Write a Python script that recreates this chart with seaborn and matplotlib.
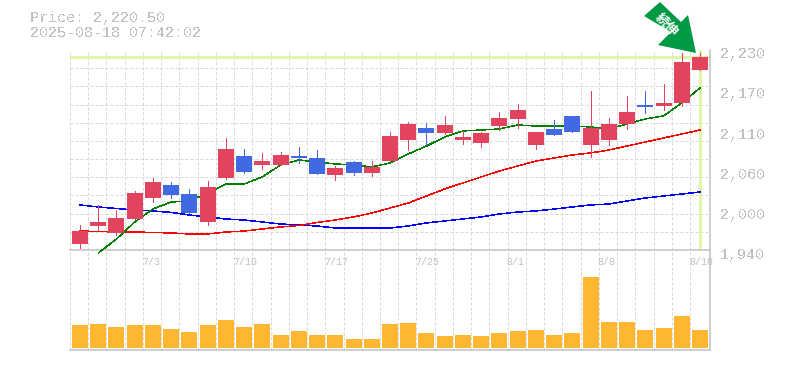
import numpy as np
import matplotlib
matplotlib.use('Agg')
import matplotlib.pyplot as plt
from matplotlib.patches import Polygon
from matplotlib.transforms import ScaledTranslation
import seaborn as sns

# daily prices
opens = [1949.2, 1974.8, 1964.7, 1985.0, 2015.4, 2034.3, 2021.2, 1980.6, 2044.4, 2076.3, 2063.3, 2063.3,
         2076.3, 2073.4, 2048.8, 2067.6, 2051.7, 2069.0, 2099.5, 2116.9, 2109.7, 2099.5, 2095.2, 2119.8,
         2130.0, 2092.3, 2115.5, 2134.3, 2092.3, 2099.5, 2122.7, 2150.3, 2148.8, 2153.2, 2201.0]
closes = [1967.5, 1980.6, 1986.4, 2022.6, 2038.6, 2019.8, 1993.6, 2031.3, 2086.5, 2053.1, 2069.0, 2077.8,
          2073.4, 2050.2, 2058.9, 2051.7, 2060.4, 2105.3, 2122.7, 2109.7, 2121.3, 2103.9, 2109.7, 2131.4,
          2143.0, 2111.1, 2106.8, 2111.1, 2116.9, 2122.7, 2140.1, 2147.4, 2153.2, 2212.6, 2220.5]
highs = [1976.3, 2005.3, 1998.0, 2025.5, 2044.4, 2038.6, 2028.5, 2040.0, 2102.4, 2086.5, 2080.7, 2082.1,
         2089.4, 2085.0, 2061.8, 2069.0, 2069.0, 2111.1, 2125.6, 2124.2, 2134.3, 2112.6, 2111.1, 2140.1,
         2151.7, 2111.1, 2128.5, 2134.3, 2170.5, 2131.4, 2163.3, 2170.5, 2180.7, 2225.7, 2225.7]
lows = [1943.3, 1969.4, 1961.8, 1985.0, 2009.6, 2015.4, 1993.6, 1976.3, 2043.0, 2051.7, 2057.5, 2063.3,
        2066.2, 2050.2, 2041.5, 2048.8, 2047.3, 2069.0, 2085.0, 2092.3, 2108.2, 2093.7, 2089.4, 2114.0,
        2116.9, 2086.5, 2106.8, 2111.1, 2074.9, 2092.3, 2115.5, 2138.7, 2143.0, 2148.8, 2201.0]

ma_short = [np.nan, 1935.6, 1956.0, 1980.6, 1999.5, 2009.6, 2011.0, 2022.6, 2035.7, 2035.7, 2045.9, 2063.3,
            2070.5, 2067.6, 2064.7, 2063.3, 2060.4, 2066.2, 2079.2, 2090.8, 2103.9, 2112.6, 2114.0, 2115.5,
            2121.3, 2119.8, 2119.8, 2119.8, 2118.4, 2115.5, 2122.7, 2130.0, 2134.3, 2153.2, 2174.9]
ma_mid = [1967.5, 1966.8, 1966.1, 1966.1, 1965.4, 1964.7, 1963.2, 1963.2, 1966.1, 1967.5, 1970.5, 1973.4,
          1975.5, 1979.9, 1983.5, 1987.9, 1993.6, 2000.9, 2008.1, 2018.3, 2028.5, 2037.2, 2045.9, 2054.6,
          2061.8, 2069.0, 2073.4, 2077.8, 2080.7, 2085.0, 2090.8, 2096.6, 2102.4, 2108.2, 2114.0]
ma_long = [2005.3, 2002.4, 2000.2, 1998.0, 1996.6, 1994.5, 1990.8, 1987.9, 1985.0, 1983.5, 1980.6, 1977.7,
           1976.3, 1974.8, 1971.9, 1971.9, 1971.9, 1971.9, 1974.8, 1979.2, 1982.1, 1985.0, 1987.9, 1992.2,
           1995.1, 1996.6, 1999.4, 2002.4, 2005.3, 2006.7, 2011.1, 2015.4, 2018.3, 2021.2, 2024.1]

volume = [23, 24, 21, 23, 23, 19, 16, 23, 28, 21, 24, 13, 17, 13, 13, 9, 9, 24,
          25, 15, 12, 13, 12, 15, 17, 18, 13, 15, 71, 26, 26, 18, 20, 32, 18]

date_pos = [4, 9, 14, 19, 24, 29, 34]
date_labels = ['7/3', '7/10', '7/17', '7/25', '8/1', '8/8', '8/18']
price_ticks = [2230, 2172, 2114, 2056, 1998, 1940]
price_labels = ['2,230', '2,170', '2,110', '2,060', '2,000', '1,940']
last_price = 2220.5

UP = '#e2445f'
DOWN = '#4169e1'
GRID = '#d8d8d8'
AXIS = '#c0c0c0'
CROSS = '#e0f5a8'
PX = 0.72  # one pixel in points at dpi 100
MARGIN = 0.548  # space left of the first candle, in days

sns.set_style('white')
plt.rcParams['font.family'] = ['Liberation Mono', 'DejaVu Sans']
plt.rcParams['text.antialiased'] = False

W, H = 785, 370
fig = plt.figure(figsize=(W / 100, H / 100), dpi=100)
vol = fig.add_axes([70 / W, (H - 350) / H, 640 / W, 100 / H])
ax = fig.add_axes([70 / W, (H - 250) / H, 640 / W, 200 / H])
vol.patch.set_visible(False)

days = np.arange(len(closes))
opens, closes, highs, lows = map(np.array, (opens, closes, highs, lows))

# moving averages sit behind the candles
for ma, col, clip in [(ma_long, '#0000ff', True), (ma_mid, '#ff0000', True), (ma_short, '#008000', False)]:
    sns.lineplot(x=days, y=ma, ax=ax, color=col, linewidth=0.5 * PX, antialiased=False,
                 errorbar=None, clip_on=clip, zorder=3)

colors = [UP if c >= o else DOWN for o, c in zip(opens, closes)]
ax.vlines(days, lows, highs, colors=colors, linewidth=PX, antialiased=False, zorder=4)
ax.bar(days, np.abs(closes - opens), bottom=np.minimum(opens, closes), width=0.877,
       color=colors, linewidth=0, antialiased=False, zorder=5)

ax.axhline(last_price, color=CROSS, linewidth=3 * PX, zorder=2)
ax.axvline(days[-1], color=CROSS, linewidth=3 * PX, zorder=2)

sns.barplot(x=days, y=volume, ax=vol, native_scale=True, width=0.877, color='#ffb733',
            saturation=1, linewidth=0, antialiased=False, zorder=3)

for a in (ax, vol):
    a.set_xlim(-MARGIN, days[-1] + MARGIN)
    a.set_xticks(days - MARGIN, minor=True)
    a.grid(False)
    a.grid(True, axis='x', which='minor', color=GRID, linewidth=PX, linestyle=(0, (3, 2)), zorder=1)
    a.set_axisbelow(True)
    a.set_xlabel('')
    a.set_ylabel('')
    a.spines['top'].set_visible(False)
    a.spines['left'].set_visible(False)
    for s in ('right', 'bottom'):
        a.spines[s].set_color(AXIS)
        a.spines[s].set_linewidth(1.5 * PX)

ax.set_ylim(1940, 2230)
ax.set_yticks(np.linspace(1940, 2230, 12), minor=True)
ax.grid(True, axis='y', which='minor', color=GRID, linewidth=PX, linestyle=(0, (3, 2)), zorder=1)
ax.yaxis.tick_right()
ax.set_yticks(price_ticks, price_labels)
ax.tick_params(axis='y', which='both', length=0, pad=7, labelsize=10.8, labelcolor=AXIS)
ax.set_xticks(date_pos, date_labels)
ax.tick_params(axis='x', which='both', length=0, pad=5, labelsize=7.2, labelcolor=AXIS)
shift = ScaledTranslation(0, -3 / 100, fig.dpi_scale_trans)
for lab in ax.get_yticklabels():
    lab.set_transform(lab.get_transform() + shift)
# date labels start a little left of their candle
left = ScaledTranslation(-11 / 100, 0, fig.dpi_scale_trans)
for lab in ax.get_xticklabels():
    lab.set_ha('left')
    lab.set_antialiased(True)
    lab.set_transform(lab.get_transform() + left)

vol.set_ylim(-2, 98)
vol.set_yticks([])
vol.set_xticks([])

fig.text(30 / W, 1 - 18 / H, 'Price: 2,220.50', color=AXIS, fontsize=10.8, va='center')
fig.text(30 / W, 1 - 33 / H, '2025-08-18 07:42:02', color=AXIS, fontsize=10.8, va='center')

# green arrow badge above the last candles
arrow_px = [(660, 2), (681, 22), (688, 15), (696, 53), (658, 45), (671, 32), (644, 16)]
fig.add_artist(Polygon([(x / W, 1 - y / H) for x, y in arrow_px], closed=True, transform=fig.transFigure,
                       facecolor='#009944', edgecolor='none'))
fig.text(667 / W, 1 - 25 / H, '続伸', color='white', fontsize=9.5, rotation=-45, fontweight='bold',
         family=['Noto Sans CJK JP', 'DejaVu Sans'], ha='center', va='center', rotation_mode='anchor',
         antialiased=True)

fig.savefig('out.png', dpi=100, facecolor='white')
